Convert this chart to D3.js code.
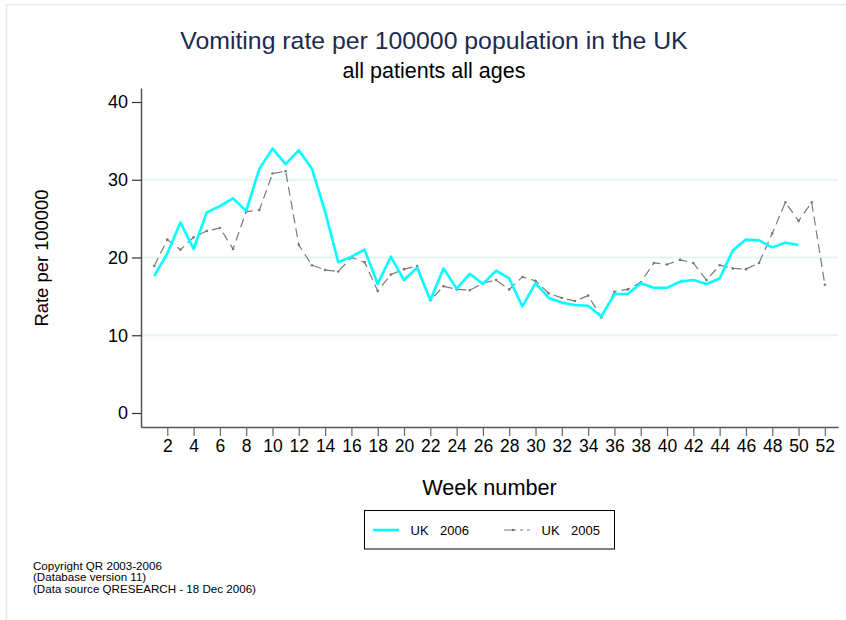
<!DOCTYPE html>
<html>
<head>
<meta charset="utf-8">
<script src="https://cdn.jsdelivr.net/npm/d3@7"></script>
<style>
  body { margin: 0; background: #fff; }
  svg { display: block; font-family: "Liberation Sans", Arial, sans-serif; }
</style>
</head>
<body>
<div id="chart"></div>
<script>
const WIDTH = 846, HEIGHT = 620;

// weeks 1..52
const weeks = d3.range(1, 53);
const uk2006 = [17.6, 20.5, 24.5, 21.1, 25.8, 26.6, 27.6, 26.0, 31.4, 34.0,
    32.0, 33.8, 31.4, 25.9, 19.4, 20.1, 21.0, 16.6, 20.1, 17.1,
    18.7, 14.5, 18.6, 16.0, 17.9, 16.6, 18.3, 17.3, 13.7, 16.7,
    14.8, 14.2, 13.9, 13.8, 12.4, 15.3, 15.3, 16.7, 16.1, 16.1,
    16.9, 17.1, 16.6, 17.3, 20.9, 22.3, 22.2, 21.3, 21.9, 21.6];
const uk2005 = [18.9, 22.3, 21.0, 22.6, 23.4, 23.8, 21.1, 25.9, 26.1, 30.8,
    31.1, 21.6, 19.0, 18.4, 18.2, 20.0, 19.4, 15.7, 17.8, 18.5,
    18.9, 14.5, 16.3, 15.9, 15.8, 16.7, 17.1, 15.9, 17.5, 17.0,
    15.4, 14.8, 14.4, 15.1, 12.3, 15.6, 15.9, 16.8, 19.3, 19.1,
    19.7, 19.3, 17.1, 19.0, 18.6, 18.5, 19.3, 23.1, 27.1, 24.7,
    27.1, 16.5];
const yTicks = [0, 10, 20, 30, 40];
const gridTicks = [10, 20, 30];
const xTicks = d3.range(2, 53, 2);

const svg = d3.select("#chart")
    .append("svg")
    .attr("width", WIDTH)
    .attr("height", HEIGHT)

// outer frame (runs off the right/bottom edge)
svg.append("rect")
    .attr("x", 6.5).attr("y", 4.5)
    .attr("width", 900).attr("height", 700)
    .attr("fill", "none")
    .attr("stroke", "#e3eaee")
    .attr("stroke-width", 1.5)

const x = d3.scaleLinear().domain([0, 53]).range([141, 838]);
const y = d3.scaleLinear().domain([-1.8, 41.8]).range([427, 88]);

// grid
svg.append("g").selectAll("line").data(gridTicks).enter().append("line")
    .attr("x1", 142).attr("x2", 838)
    .attr("y1", d => y(d)).attr("y2", d => y(d))
    .attr("stroke", "#e8f1f3")
    .attr("stroke-width", 1.8)

// y axis
const yAxis = svg.append("g")
    .attr("transform", "translate(141,0)")
    .call(d3.axisLeft(y).tickValues(yTicks).tickSize(9).tickSizeOuter(0).tickPadding(4))
yAxis.select(".domain").attr("stroke", "#555").attr("stroke-width", 1.5)
yAxis.selectAll(".tick line").attr("stroke", "#333").attr("stroke-width", 1.2)
yAxis.selectAll(".tick text").attr("font-size", 18).attr("fill", "#000")
    .attr("font-family", "Liberation Sans, Arial, sans-serif")

// x axis
const xAxis = svg.append("g")
    .attr("transform", "translate(0,427)")
    .call(d3.axisBottom(x).tickValues(xTicks).tickSize(9).tickSizeOuter(0).tickPadding(4))
xAxis.select(".domain").attr("stroke", "#555").attr("stroke-width", 1.5)
xAxis.selectAll(".tick line").attr("stroke", "#666").attr("stroke-width", 1.2)
xAxis.selectAll(".tick text").attr("font-size", 17.5).attr("fill", "#000")
    .attr("font-family", "Liberation Sans, Arial, sans-serif")

const line = d3.line().x((d, i) => x(i + 1)).y(d => y(d));

// UK 2005 (dashed grey with small dots)
svg.append("path")
    .datum(uk2005)
    .attr("d", line)
    .attr("fill", "none")
    .attr("stroke", "#7a7a7a")
    .attr("stroke-width", 1.2)
    .attr("stroke-dasharray", "9,5")
svg.append("g").selectAll("circle").data(uk2005).enter().append("circle")
    .attr("cx", (d, i) => x(i + 1))
    .attr("cy", d => y(d))
    .attr("r", 1.3)
    .attr("fill", "#777")

// UK 2006 (cyan)
svg.append("path")
    .datum(uk2006)
    .attr("d", line)
    .attr("fill", "none")
    .attr("stroke", "#00ffff")
    .attr("stroke-width", 2.6)
    .attr("stroke-linejoin", "round")

// titles
svg.append("text")
    .attr("x", 434).attr("y", 49)
    .attr("text-anchor", "middle")
    .attr("font-size", 24.8)
    .attr("fill", "#1c2a4e")
    .text("Vomiting rate per 100000 population in the UK")
svg.append("text")
    .attr("x", 434).attr("y", 78)
    .attr("text-anchor", "middle")
    .attr("font-size", 21.5)
    .attr("fill", "#000")
    .text("all patients all ages")

svg.append("text")
    .attr("transform", "translate(48,258) rotate(-90)")
    .attr("text-anchor", "middle")
    .attr("font-size", 18.4)
    .text("Rate per 100000")

svg.append("text")
    .attr("x", 489.5).attr("y", 495)
    .attr("text-anchor", "middle")
    .attr("font-size", 21.7)
    .text("Week number")

// legend
const legend = svg.append("g")
legend.append("rect")
    .attr("x", 364.5).attr("y", 510.5)
    .attr("width", 250).attr("height", 38.5)
    .attr("fill", "#fff")
    .attr("stroke", "#000")
    .attr("stroke-width", 1)
legend.append("line")
    .attr("x1", 373).attr("x2", 399).attr("y1", 530).attr("y2", 530)
    .attr("stroke", "#00ffff").attr("stroke-width", 2.6)
legend.append("text").attr("x", 410.5).attr("y", 535).attr("font-size", 13).text("UK")
legend.append("text").attr("x", 440).attr("y", 535).attr("font-size", 13).text("2006")
legend.append("line")
    .attr("x1", 504).attr("x2", 530).attr("y1", 530).attr("y2", 530)
    .attr("stroke", "#7a7a7a").attr("stroke-width", 1.2)
    .attr("stroke-dasharray", "12,4,3,4")
legend.append("circle").attr("cx", 513).attr("cy", 530).attr("r", 1.3).attr("fill", "#777")
legend.append("text").attr("x", 541.5).attr("y", 535).attr("font-size", 13).text("UK")
legend.append("text").attr("x", 571).attr("y", 535).attr("font-size", 13).text("2005")

// source note
const notes = ["Copyright QR 2003-2006", "(Database version 11)", "(Data source QRESEARCH - 18 Dec 2006)"];
svg.append("g").selectAll("text").data(notes).enter().append("text")
    .attr("x", 33)
    .attr("y", (d, i) => 570 + i * 11.4)
    .attr("font-size", 11.6)
    .text(d => d)
</script>
</body>
</html>
